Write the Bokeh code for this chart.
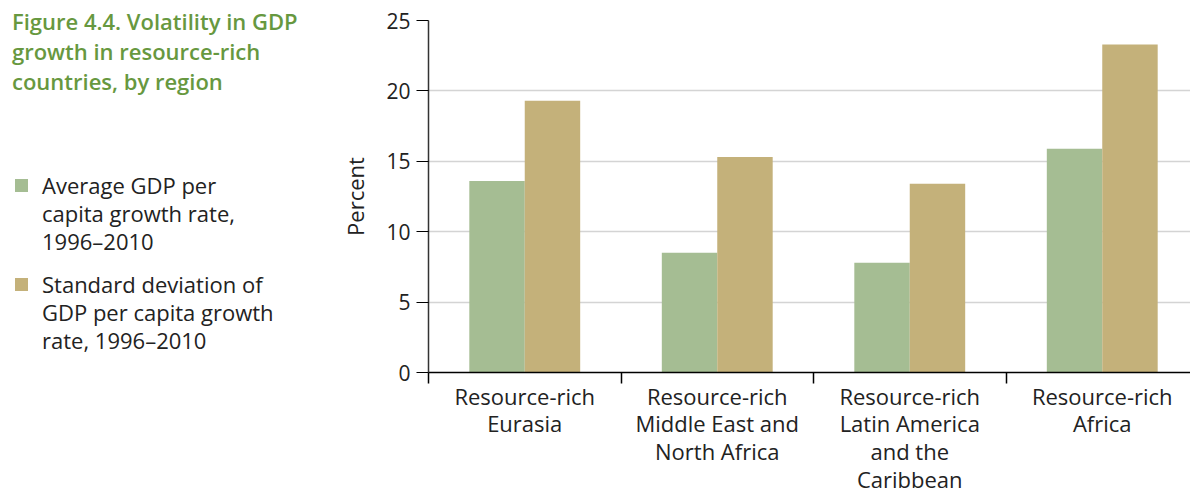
import numpy as np
from bokeh.plotting import figure
from bokeh.layouts import row
from bokeh.models import Range1d, FixedTicker, ColumnDataSource, Div
from bokeh.embed import file_html
from bokeh.resources import INLINE

# ---- data ----
regions = ["Resource-rich\nEurasia",
           "Resource-rich\nMiddle East and\nNorth Africa",
           "Resource-rich\nLatin America\nand the\nCaribbean",
           "Resource-rich\nAfrica"]
avg_growth = [13.6, 8.5, 7.8, 15.9]
std_dev = [19.3, 15.3, 13.4, 23.3]
series_names = ["Average GDP per\ncapita growth rate,\n1996\u20132010",
                "Standard deviation of\nGDP per capita growth\nrate, 1996\u20132010"]
y_ticks = [0, 5, 10, 15, 20, 25]
title_text = "Figure 4.4. Volatility in GDP\ngrowth in resource-rich\ncountries, by region"

GREEN = "#a5bd93"
TAN = "#c4b17a"
TITLE_GREEN = "#67983f"
FONT = "Open Sans"
TXT = "#222222"
series_colors = [GREEN, TAN]

idx = np.arange(len(regions))
centers = idx + 0.5
bw = 0.288
src = ColumnDataSource(dict(xg=centers - bw / 2, xt=centers + bw / 2,
                            avg=avg_growth, sd=std_dev))

LEFT_W = 330
FRAME_W, FRAME_H = 762, 352
CAT_PX = 192.5
TOP = 20
BOTTOM = 118

# ---------------- main chart ----------------
p = figure(frame_width=FRAME_W, frame_height=FRAME_H,
           x_range=Range1d(0, FRAME_W / CAT_PX), y_range=Range1d(0, 25),
           output_backend="svg", toolbar_location=None,
           min_border_left=428 - LEFT_W, min_border_right=0,
           min_border_top=TOP, min_border_bottom=BOTTOM)
p.outline_line_color = None
p.background_fill_color = "white"
p.border_fill_color = "white"

p.vbar(x="xg", top="avg", width=bw, bottom=0, source=src,
       fill_color=GREEN, line_color=None)
p.vbar(x="xt", top="sd", width=bw, bottom=0, source=src,
       fill_color=TAN, line_color=None)

# x axis
xa = p.xaxis[0]
xa.ticker = FixedTicker(ticks=list(centers), minor_ticks=list(idx) + [len(regions)])
xa.major_label_overrides = {float(c): r for c, r in zip(centers, regions)}
xa.major_tick_line_color = None
xa.minor_tick_in = 0
xa.minor_tick_out = 11
xa.minor_tick_line_color = "black"
xa.minor_tick_line_width = 1.5
xa.axis_line_color = "black"
xa.axis_line_width = 1.5
xa.major_label_text_font = FONT
xa.major_label_text_font_size = "22px"
xa.major_label_text_color = TXT
xa.major_label_standoff = -3
xa.major_label_text_line_height = 0.93
p.xgrid.grid_line_color = None

# y axis
ya = p.yaxis[0]
ya.ticker = FixedTicker(ticks=y_ticks)
ya.major_tick_in = 0
ya.major_tick_out = 12
ya.major_tick_line_color = "black"
ya.major_tick_line_width = 1.2
ya.minor_tick_line_color = None
ya.axis_line_color = "#333333"
ya.axis_line_width = 1.5
ya.major_label_text_font = FONT
ya.major_label_text_font_size = "21px"
ya.major_label_text_color = TXT
ya.major_label_standoff = 6
ya.axis_label = "Percent"
ya.axis_label_text_font = FONT
ya.axis_label_text_font_size = "22px"
ya.axis_label_text_font_style = "normal"
ya.axis_label_text_color = TXT
ya.axis_label_standoff = 13
p.ygrid.grid_line_color = "#d4d4d4"
p.ygrid.grid_line_width = 1.5

# ---------------- left panel: title + legend (HTML text) ----------------
def br(s):
    return s.replace("\n", "<br>")

items_html = "".join(
    f'<div style="display:flex;align-items:flex-start;margin-bottom:15px;">'
    f'<span style="flex:none;width:13px;height:13px;background:{c};'
    f'margin-top:8px;margin-right:14px;"></span>'
    f'<span>{br(name)}</span></div>'
    for name, c in zip(series_names, series_colors))

html = (
    f'<div style="position:relative;width:{LEFT_W}px;height:470px;'
    f'font-family:\'{FONT}\',sans-serif;">'
    f'<div style="position:absolute;left:12px;top:6px;color:{TITLE_GREEN};'
    f'font-size:22px;line-height:30px;font-weight:600;white-space:nowrap;">'
    f'{br(title_text)}</div>'
    f'<div style="position:absolute;left:15px;top:171px;color:{TXT};'
    f'font-size:22px;line-height:28px;white-space:nowrap;">{items_html}</div>'
    f'</div>')

left = Div(text=html, width=LEFT_W, height=470, margin=0)

layout = row(left, p, spacing=0)
open("out.html", "w").write(file_html(layout, INLINE))
